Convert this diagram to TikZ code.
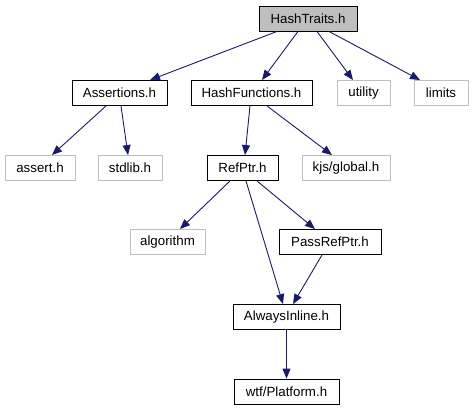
\documentclass[tikz,border=0pt]{standalone}
\usepackage{fontspec}
\setmainfont{Liberation Sans}
\usetikzlibrary{arrows.meta}
\definecolor{edgeblue}{HTML}{191970}
\definecolor{grayline}{HTML}{BFBFBF}
\definecolor{rootfill}{HTML}{BFBFBF}
\tikzset{
  box/.style={draw=black, line width=0.9pt, rectangle, minimum height=25pt, inner sep=0pt, font=\fontsize{13.3}{16}\selectfont, anchor=center},
  sysbox/.style={box, draw=grayline, line width=0.9pt},
  rootbox/.style={box, fill=rootfill},
  edge/.style={draw=edgeblue, line width=0.9pt, -{Triangle[length=10pt,width=8pt]}}
}
\begin{document}
\begin{tikzpicture}[x=1pt,y=-1pt]
\useasboundingbox (0,0) rectangle (473,411);
\node[rootbox, minimum width=98pt] (ht) at (308,18.5) {HashTraits.h};
\node[box, minimum width=95pt] (as) at (119.5,93) {Assertions.h};
\node[box, minimum width=121pt] (hf) at (251.5,93) {HashFunctions.h};
\node[sysbox, minimum width=53pt] (ut) at (363.5,93) {utility};
\node[sysbox, minimum width=54pt] (li) at (441,93) {limits};
\node[sysbox, minimum width=70pt] (asr) at (40,168) {assert.h};
\node[sysbox, minimum width=64pt] (sl) at (130,168) {stdlib.h};
\node[box, minimum width=71pt] (rp) at (242.5,168) {RefPtr.h};
\node[sysbox, minimum width=88pt] (kjs) at (346,168) {kjs/global.h};
\node[sysbox, minimum width=75pt] (alg) at (167.5,242) {algorithm};
\node[box, minimum width=102pt] (prp) at (330,242) {PassRefPtr.h};
\node[box, minimum width=107pt] (ai) at (286.5,317) {AlwaysInline.h};
\node[box, minimum width=105pt] (pl) at (286.5,391.5) {wtf/Platform.h};

\draw[edge] ([xshift=-31pt]ht.south) -- ([xshift=30.5pt]as.north);
\draw[edge] ([xshift=-10pt]ht.south) -- ([xshift=10.5pt]hf.north);
\draw[edge] ([xshift=9pt]ht.south) -- ([xshift=-10.5pt]ut.north);
\draw[edge] ([xshift=21pt]ht.south) -- ([xshift=-21pt]li.north);
\draw[edge] ([xshift=-13.5pt]as.south) -- ([xshift=12pt]asr.north);
\draw[edge] ([xshift=1.5pt]as.south) -- ([xshift=-2pt]sl.north);
\draw[edge] ([xshift=-1.5pt]hf.south) -- ([xshift=2.5pt]rp.north);
\draw[edge] ([xshift=15.5pt]hf.south) -- ([xshift=-14pt]kjs.north);
\draw[edge] ([xshift=-12.5pt]rp.south) -- ([xshift=12.5pt]alg.north);
\draw[edge] ([xshift=14.5pt]rp.south) -- ([xshift=-15pt]prp.north);
\draw[edge] ([xshift=3.5pt]rp.south) -- ([xshift=-3.5pt]ai.north);
\draw[edge] ([xshift=-8pt]prp.south) -- ([xshift=6.5pt]ai.north);
\draw[edge] (ai.south) -- (pl.north);
\end{tikzpicture}
\end{document}
